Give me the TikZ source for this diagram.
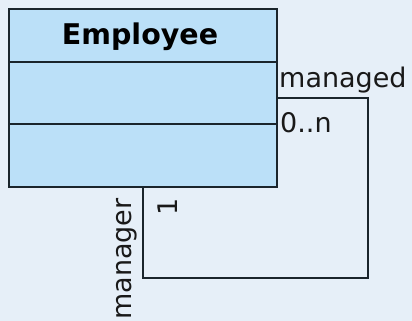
\documentclass[tikz,border=0pt]{standalone}
\usepackage{fontspec}
\setmainfont{DejaVu Sans}
\definecolor{bgc}{HTML}{E6EFF8}
\definecolor{boxc}{HTML}{BBE0F8}
\definecolor{linec}{HTML}{1A252C}
\begin{document}
\begin{tikzpicture}[x=1pt,y=-1pt,
  classbox/.style={draw=linec,fill=boxc,line width=2.6pt,minimum width=268pt,minimum height=178pt,inner sep=0pt},
  conn/.style={draw=linec,line width=2.4pt},
  lbl/.style={inner sep=0pt,text=black!90,font=\fontsize{27}{32}\selectfont},
  ]
\fill[bgc] (0,0) rectangle (412,321);
\useasboundingbox (0,0) rectangle (412,321);
\node[classbox] (emp) at (143,98) {};
\draw[linec,line width=2.4pt] (9,62) -- (277,62);
\draw[linec,line width=2.4pt] (9,124) -- (277,124);
\node[lbl,anchor=base,text=black,font=\fontsize{28.5}{32}\selectfont\bfseries] (title) at (140,45) {Employee};
\coordinate (c1) at (368,98);
\coordinate (c2) at (368,278);
\coordinate (c3) at (143,278);
\draw[conn] (emp.east) -- (c1) -- (c2) -- (c3) -- (emp.south);
\node[lbl,anchor=base west] (managed) at (279,87) {managed};
\node[lbl,anchor=base west] (mult1) at (280,132) {0..n};
\node[lbl,anchor=base west,rotate=90] (manager) at (131,320) {manager};
\node[lbl,anchor=base,rotate=90] (mult2) at (177,207) {1};
\end{tikzpicture}
\end{document}
